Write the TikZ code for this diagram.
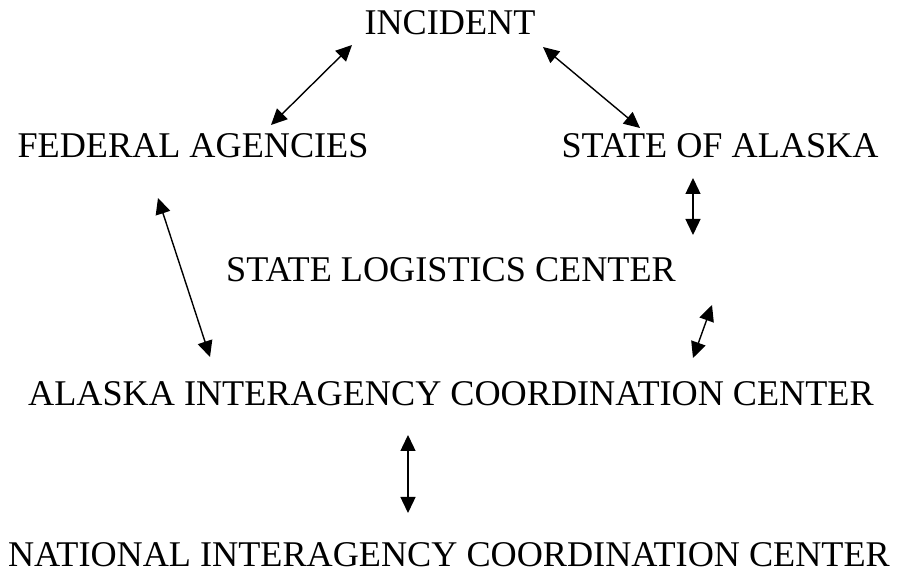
\documentclass[tikz,border=0pt]{standalone}
\usepackage{fontspec}
\setmainfont{Liberation Serif}
\usetikzlibrary{arrows.meta}
\begin{document}
\begin{tikzpicture}[x=1pt,y=1pt,
  lbl/.style={anchor=base,inner sep=0pt,text depth=0pt,font=\fontsize{36.2}{43}\selectfont},
  link/.style={line width=1.4pt,{Triangle[length=16pt,width=15pt]}-{Triangle[length=16pt,width=15pt]}}]
\useasboundingbox (0,0) rectangle (898,575);
\node[lbl] (inc) at (450,540) {INCIDENT};
\node[lbl] (fed) at (193,417) {FEDERAL AGENCIES};
\node[lbl] (soa) at (720,417) {STATE OF ALASKA};
\node[lbl] (slc) at (451,293) {STATE LOGISTICS CENTER};
\node[lbl] (aicc) at (451,169) {ALASKA INTERAGENCY COORDINATION CENTER};
\node[lbl] (nicc) at (449,8) {NATIONAL INTERAGENCY COORDINATION CENTER};
% arrow end points
\coordinate (a1) at (352,530); \coordinate (b1) at (271,450);
\coordinate (a2) at (543,528); \coordinate (b2) at (640,447);
\coordinate (a3) at (693,397); \coordinate (b3) at (693,340);
\coordinate (a4) at (158,377); \coordinate (b4) at (210,218);
\coordinate (a5) at (712,270); \coordinate (b5) at (693,217);
\coordinate (a6) at (408,140); \coordinate (b6) at (408,62);
\draw[link] (a1) -- (b1);
\draw[link] (a2) -- (b2);
\draw[link] (a3) -- (b3);
\draw[link] (a4) -- (b4);
\draw[link] (a5) -- (b5);
\draw[link] (a6) -- (b6);
\end{tikzpicture}
\end{document}
